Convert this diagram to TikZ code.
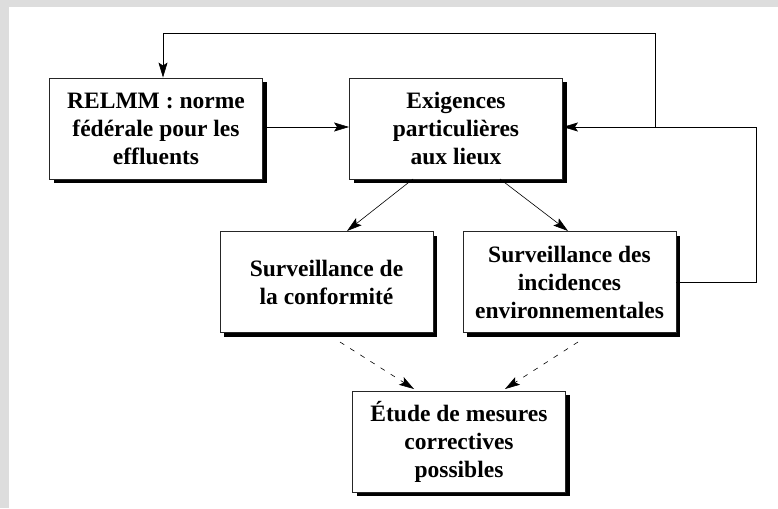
\documentclass[tikz,border=0pt]{standalone}
\usepackage{fontspec}
\setmainfont{Liberation Serif}
\usetikzlibrary{arrows.meta,shadows}
\definecolor{bggray}{RGB}{221,221,221}
\begin{document}
\begin{tikzpicture}[x=1pt,y=-1pt,
  box/.style={draw=black!85, line width=0.9pt, fill=white, minimum width=213pt, minimum height=101pt,
    align=center, inner sep=0pt, font=\fontsize{23.5}{28}\selectfont\bfseries,
    drop shadow={shadow xshift=4pt, shadow yshift=-4pt, fill=black, opacity=1, draw=none}},
  arr/.style={line width=0.6pt, -{Stealth[length=15pt,width=9pt,inset=3pt]}},
  dasharr/.style={arr, dash pattern=on 5pt off 7pt}
]
\useasboundingbox (0,0) rectangle (778,508);
\fill[bggray] (0,0) rectangle (778,508);
\fill[white] (9,7) rectangle (778,508);

\node[box] (b1) at (156,128.5) {RELMM : norme\\fédérale pour les\\effluents};
\node[box] (b2) at (456,128.5) {Exigences\\particulières\\aux lieux};
\node[box] (b3) at (326.5,282) {Surveillance de\\la conformité};
\node[box] (b4) at (569.5,282) {Surveillance des\\incidences\\environnementales};
\node[box] (b5) at (459,441.5) {Étude de mesures\\correctives\\possibles};

\coordinate (j) at (655,127);
\coordinate (r) at (756,282);
\coordinate (t) at (163,33);

\draw[arr] (b1.east |- j) -- (b2.west |- j);
\draw[arr] (b4.east) -- (r) |- (b2.east |- j);
\draw[arr] (j) |- (t) -- (b1.north -| t);

\draw[arr] (413,179) -- (347,231);
\draw[arr] (500,179) -- (568,231);

\draw[dasharr] (340,342) -- (414,389);
\draw[dasharr] (578,342) -- (505,389);
\end{tikzpicture}
\end{document}
